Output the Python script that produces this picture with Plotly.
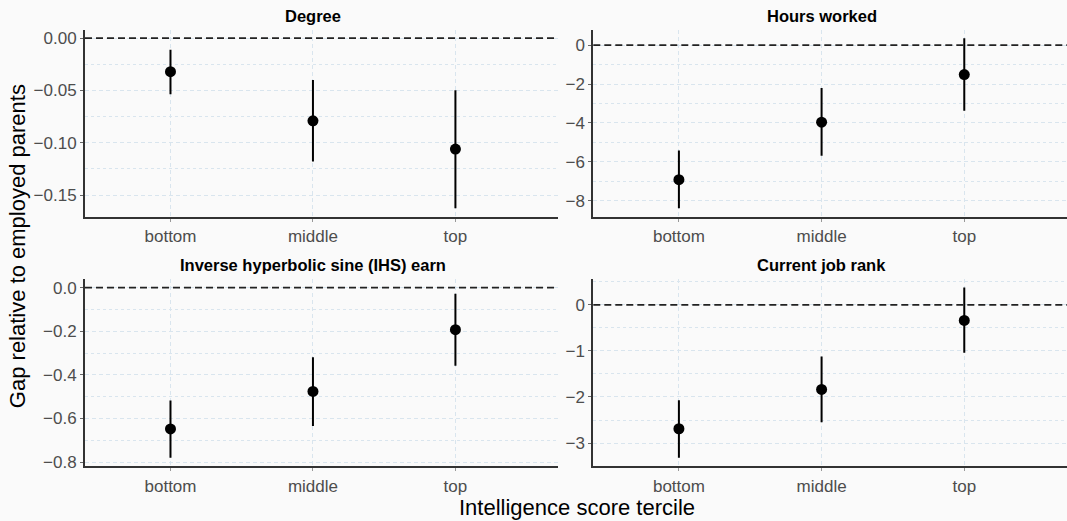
import plotly.graph_objects as go

categories = ["bottom", "middle", "top"]

panel_titles = ["Degree", "Hours worked", "Inverse hyperbolic sine (IHS) earn", "Current job rank"]

degree_est = [-0.032, -0.079, -0.106]
degree_lo = [-0.0535, -0.118, -0.1626]
degree_hi = [-0.011, -0.040, -0.0497]

hours_est = [-6.92, -3.96, -1.51]
hours_lo = [-8.39, -5.69, -3.37]
hours_hi = [-5.42, -2.20, 0.36]

ihs_est = [-0.648, -0.476, -0.193]
ihs_lo = [-0.780, -0.634, -0.358]
ihs_hi = [-0.518, -0.319, -0.028]

rank_est = [-2.69, -1.836, -0.336]
rank_lo = [-3.32, -2.55, -1.04]
rank_hi = [-2.07, -1.12, 0.377]

y_dticks = [0.05, 2, 0.2, 1]
y_formats = [".2f", "d", ".1f", "d"]

W, H = 1067, 521
BG = "#FAFAFA"
GRID = "#D9E5EE"
FONT = "Liberation Sans"

panels = [
    (degree_est, degree_lo, degree_hi),
    (hours_est, hours_lo, hours_hi),
    (ihs_est, ihs_lo, ihs_hi),
    (rank_est, rank_lo, rank_hi),
]

# pixel geometry of panels (left, right, top, bottom)
px_x = [(85, 558), (593.3, 1067)]
px_y = [(30, 219.3), (282.3, 471.7)]

fig = go.Figure()
layout = dict(
    width=W, height=H,
    margin=dict(l=0, r=0, t=0, b=0),
    paper_bgcolor=BG, plot_bgcolor=BG,
    showlegend=False,
    font=dict(family=FONT, size=17, color="#4D4D4D"),
    annotations=[], shapes=[],
)

for i, (est, lo, hi) in enumerate(panels):
    n = i + 1
    xa = "x" if n == 1 else f"x{n}"
    ya = "y" if n == 1 else f"y{n}"
    col = i % 2
    row = i // 2
    xl, xr = px_x[col]
    yt, yb = px_y[row]

    fig.add_trace(go.Scatter(
        x=categories, y=est, xaxis=xa, yaxis=ya, mode="markers",
        marker=dict(color="black", size=11),
        error_y=dict(type="data", symmetric=False,
                     array=[h - e for h, e in zip(hi, est)],
                     arrayminus=[e - l for e, l in zip(est, lo)],
                     color="black", thickness=2, width=0),
        cliponaxis=False,
    ))

    ymin = min(min(lo), 0)
    ymax = max(max(hi), 0)
    pad = (ymax - ymin) * 0.05
    dt = y_dticks[i]

    layout["xaxis" if n == 1 else f"xaxis{n}"] = dict(
        domain=[xl / W, xr / W], anchor=ya, type="category",
        categoryorder="array", categoryarray=categories,
        range=[-0.6, 2.72], showline=True, linecolor="#333333", linewidth=2,
        showgrid=True, gridcolor=GRID, griddash="4px,3px", gridwidth=1,
        ticks="outside", ticklen=3, tickcolor="#999999",
        tickfont=dict(size=17, color="#4D4D4D", family=FONT),
        zeroline=False, fixedrange=True,
    )
    layout["yaxis" if n == 1 else f"yaxis{n}"] = dict(
        domain=[1 - yb / H, 1 - yt / H], anchor=xa,
        range=[ymin - pad, ymax + pad],
        dtick=dt, tick0=0, tickformat=y_formats[i],
        showline=True, linecolor="#333333", linewidth=2,
        showgrid=True, gridcolor=GRID, griddash="4px,3px", gridwidth=1,
        minor=dict(dtick=dt / 2, tick0=0, showgrid=True, griddash="dot",
                   gridcolor=GRID, ticklen=0),
        ticks="outside", ticklen=3, tickcolor="#666666",
        tickfont=dict(size=17, color="#4D4D4D", family=FONT),
        zeroline=False, fixedrange=True,
    )
    # reference line at zero
    layout["shapes"].append(dict(
        type="line", xref=f"{xa} domain", yref=ya, x0=0, x1=1, y0=0, y1=0,
        line=dict(color="#222222", width=1.8, dash="7px,4px"), layer="above",
    ))
    # panel title centred above the middle category
    layout["annotations"].append(dict(
        text=f"<b>{panel_titles[i]}</b>", xref=xa, x=categories[1],
        yref="paper", y=1 - (15.7 if row == 0 else 268.3) / H,
        yanchor="middle", xanchor="center", showarrow=False,
        font=dict(size=16.5, color="black", family=FONT),
    ))

layout["annotations"].append(dict(
    text="Intelligence score tercile", xref="paper", yref="paper",
    x=576.7 / W, y=1 - 513 / H, xanchor="center", yanchor="middle",
    showarrow=False, font=dict(size=22, color="black", family=FONT),
))
layout["annotations"].append(dict(
    text="Gap relative to employed parents", xref="paper", yref="paper",
    x=17 / W, y=1 - 249 / H, xanchor="center", yanchor="middle",
    textangle=-90, showarrow=False, font=dict(size=22, color="black", family=FONT),
))

fig.update_layout(**layout)
fig.write_html("out.html")
